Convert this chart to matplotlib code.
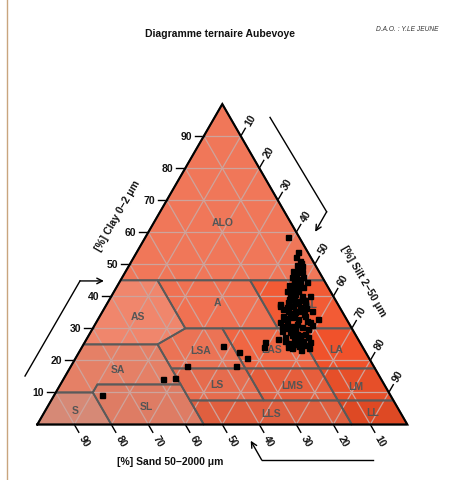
import matplotlib
matplotlib.use('Agg')
import matplotlib.pyplot as plt
from matplotlib.patches import Polygon
from matplotlib.lines import Line2D
import numpy as np

plt.rcParams['font.family'] = ['Liberation Sans', 'DejaVu Sans']

H = np.sqrt(3) / 2

# Aisne texture classes, vertices given as (clay %, sand %)
class_names = ['ALO', 'AS', 'A', 'AL', 'SA', 'LSA', 'LAS', 'LA',
               'S', 'SL', 'LS', 'LMS', 'LM', 'LLS', 'LL']
class_vertices = [
    [(100, 0), (45, 55), (45, 0)],
    [(45, 55), (45, 45), (30, 45), (25, 55), (25, 75)],
    [(45, 45), (45, 20), (30, 20), (30, 45)],
    [(45, 20), (45, 0), (30, 0), (30, 20)],
    [(25, 75), (25, 55), (12.5, 55), (12.5, 77.5), (10, 80), (10, 90)],
    [(30, 45), (30, 35), (17.5, 35), (17.5, 55), (25, 55)],
    [(30, 35), (30, 15), (17.5, 15), (17.5, 35)],
    [(30, 15), (30, 0), (17.5, 0), (17.5, 15)],
    [(10, 90), (10, 80), (0, 80), (0, 100)],
    [(12.5, 77.5), (12.5, 55), (0, 55), (0, 80), (10, 80)],
    [(17.5, 55), (17.5, 35), (7.5, 35), (7.5, 55)],
    [(17.5, 35), (17.5, 15), (7.5, 15), (7.5, 35)],
    [(17.5, 15), (17.5, 0), (7.5, 0), (7.5, 15)],
    [(7.5, 55), (7.5, 15), (0, 15), (0, 55)],
    [(7.5, 15), (7.5, 0), (0, 0), (0, 15)],
]
class_colors = ['#F07759', '#F0866C', '#F07152', '#F25B35', '#E58066',
                '#EB7355', '#F06643', '#F0522B', '#D68976', '#DE7C64',
                '#E66C4E', '#E65E3C', '#E64F29', '#E05F3F', '#DE4924']
label_clay = [63.2, 33.9, 38.2, 37.5, 17.2, 23.3, 23.6, 23.6,
              4.5, 5.8, 12.6, 12.3, 12.0, 3.6, 3.9]
label_sand = [18.2, 55.8, 32.3, 7.5, 69.6, 44.1, 25.0, 7.5,
              87.5, 67.5, 45.1, 25.0, 7.9, 35.0, 7.3]

# samples (clay %, silt %)
clay = [58.4, 53.7, 51.1, 49.6, 48.5, 48.0, 47.5, 45.9, 45.4, 44.4, 43.9, 41.8,
        42.3, 41.8, 42.8, 40.7, 40.2, 40.0, 39.2, 38.6, 38.1, 37.1, 36.6, 37.1,
        35.5, 35.0, 34.5, 34.0, 33.5, 32.9, 32.9, 32.4, 31.9, 31.4, 30.8, 30.3,
        29.8, 29.3, 28.8, 28.2, 28.2, 27.2, 26.7, 26.7, 27.2, 25.8, 25.4, 25.1,
        24.8, 24.3, 23.3, 25.7, 24.4, 22.7, 20.7, 18.2, 24.2, 37.6, 18.4, 14.2,
        14.4, 9.2, 44.4, 35.5, 52.3, 46.0, 40.4, 36.0, 35.4, 32.9, 31.1, 26.7,
        29.8, 26.1, 24.2, 23.9, 38.2, 31.4, 30.7, 36.4, 34.2, 27.9, 43.5, 49.8,
        50.5, 47.0, 44.8, 43.0, 41.2, 39.6, 38.9, 37.8, 36.8, 35.8, 34.8, 33.8,
        33.2, 32.0, 30.0, 29.0, 28.0, 27.5, 26.2, 25.0, 24.6, 23.8, 42.0, 39.0]
silt = [38.6, 43.5, 45.4, 46.7, 46.6, 45.2, 47.8, 45.9, 47.4, 48.8, 47.3, 46.5,
        47.6, 49.6, 50.5, 49.3, 51.4, 53.7, 48.5, 50.8, 53.3, 50.6, 52.7, 47.0,
        50.1, 52.1, 54.7, 49.5, 52.0, 54.1, 59.4, 56.6, 49.6, 51.7, 53.8, 56.3,
        58.3, 51.4, 53.9, 56.0, 58.3, 53.3, 55.9, 57.7, 59.6, 48.7, 55.1, 57.6,
        60.0, 55.6, 59.6, 60.9, 37.9, 43.2, 46.3, 44.6, 49.2, 46.8, 31.2, 27.0,
        30.0, 12.8, 50.6, 56.4, 43.8, 48.8, 48.1, 48.4, 52.8, 50.5, 58.7, 51.8,
        54.7, 58.8, 56.7, 61.5, 48.7, 54.5, 50.8, 54.3, 52.3, 57.1, 46.2, 45.3,
        46.0, 46.5, 47.0, 49.0, 48.0, 51.8, 49.8, 51.5, 49.2, 53.5, 51.0, 55.5,
        50.8, 57.8, 52.5, 55.0, 54.8, 56.8, 53.8, 56.2, 58.5, 57.0, 48.2, 52.5]

ticks = [10, 20, 30, 40, 50, 60, 70, 80, 90]


def to_xy(c, s):
    # (clay %, sand %) -> cartesian
    c = np.asarray(c, float) / 100
    s = np.asarray(s, float) / 100
    return 1 - s - c / 2, c * H


fig = plt.figure(figsize=(4.55, 4.81), dpi=100)
ax = fig.add_axes([0, 0, 1, 1])
ax.set_xlim(-37.3 / 370, 417.7 / 370)
ax.set_ylim((425.5 - 481) / 370, 425.5 / 370)
ax.axis('off')

fig.add_artist(Line2D([6.5 / 455, 6.5 / 455], [0, 1], transform=fig.transFigure,
                      color='#C9A57E', lw=1.0))

# class fills
for verts, col in zip(class_vertices, class_colors):
    c, s = zip(*verts)
    x, y = to_xy(c, s)
    ax.add_patch(Polygon(np.column_stack([x, y]), closed=True, facecolor=col,
                         edgecolor='none', zorder=1))

# grid
grid_kw = dict(color='#CDA49C', lw=0.9, zorder=2)
for v in ticks:
    x, y = to_xy([v, v], [100 - v, 0])
    ax.plot(x, y, **grid_kw)
    x, y = to_xy([0, 100 - v], [v, v])
    ax.plot(x, y, **grid_kw)
    x, y = to_xy([0, 100 - v], [100 - v, 0])
    ax.plot(x, y, **grid_kw)

# class boundaries
for verts in class_vertices:
    c, s = zip(*verts)
    x, y = to_xy(c, s)
    ax.add_patch(Polygon(np.column_stack([x, y]), closed=True, fill=False,
                         edgecolor='#5A5A5A', lw=1.3, zorder=3))

for name, lc, ls in zip(class_names, label_clay, label_sand):
    x, y = to_xy(lc, ls)
    ax.text(x, y, name, ha='center', va='center', fontsize=7.5,
            fontweight='bold', color='#555555', zorder=4)

# outline
x, y = to_xy([0, 0, 100, 0], [100, 0, 0, 100])
ax.plot(x, y, color='black', lw=1.5, zorder=5, solid_joinstyle='miter')

tl = 9 / 370
lab_d = 19 / 370
tick_kw = dict(fontsize=7.5, fontweight='bold', color='#111111')
for v in ticks:
    # clay (left)
    px, py = v / 200, v / 100 * H
    ax.plot([px - tl, px], [py, py], color='black', lw=1.0)
    ax.text(px - tl - 3 / 370, py, str(v), ha='right', va='center', **tick_kw)
    # sand (bottom)
    px, py = 1 - v / 100, 0
    dx, dy = 0.5, -H
    ax.plot([px, px + tl * dx], [py, py + tl * dy], color='black', lw=1.0)
    ax.text(px + lab_d * dx, py + lab_d * dy, str(v), rotation=-60,
            rotation_mode='anchor', ha='center', va='center', **tick_kw)
    # silt (right)
    px, py = 0.5 + v / 200, (1 - v / 100) * H
    dx, dy = 0.5, H
    ax.plot([px, px + tl * dx], [py, py + tl * dy], color='black', lw=1.0)
    ax.text(px + lab_d * dx, py + lab_d * dy, str(v), rotation=60,
            rotation_mode='anchor', ha='center', va='center', **tick_kw)

lab_kw = dict(fontsize=7.5, fontweight='bold', color='#111111',
              ha='center', va='center', rotation_mode='anchor')
ax.text(0.218, 0.566, '[%] Clay 0\u22122 \u03bcm', rotation=60, **lab_kw)
ax.text(0.880, 0.3905, '[%] Silt 2\u221250 \u03bcm', rotation=-60, **lab_kw)
ax.text(0.359, -0.0986, '[%] Sand 50\u22122000 \u03bcm', rotation=0, **lab_kw)

# direction arrows
arrow_paths = [
    [(-0.0332, 0.131), (0.1154, 0.388), (0.1800, 0.388)],
    [(0.629, 0.830), (0.782, 0.5749), (0.751, 0.5208)],
    [(0.908, -0.096), (0.6065, -0.096), (0.5768, -0.0438)],
]
for path in arrow_paths:
    xs, ys = zip(*path)
    ax.plot(xs[:-1], ys[:-1], color='black', lw=1.0)
    ax.annotate('', xy=path[-1], xytext=path[-2],
                arrowprops=dict(arrowstyle='->', color='black', lw=1.0,
                                shrinkA=0, shrinkB=0, mutation_scale=10))

# samples
sand = 100 - np.array(clay) - np.array(silt)
x, y = to_xy(clay, sand)
ax.plot(x, y, 's', color='black', markersize=3.6, zorder=6)

ax.text(0.494, 1.058, 'Diagramme ternaire Aubevoye', ha='center', va='center',
        fontsize=7.5, fontweight='bold', color='#111111')
ax.text(0.999, 1.0716, 'D.A.O. : Y.LE JEUNE', ha='center', va='center',
        fontsize=4.8, style='italic', color='#333333')

fig.savefig('out.png', dpi=100)
